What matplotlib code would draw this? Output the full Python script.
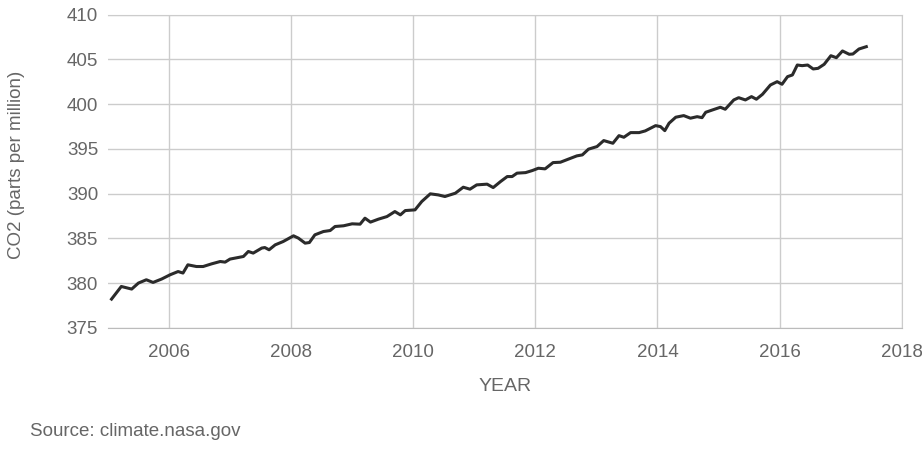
import matplotlib.pyplot as plt

plt.rcParams['font.family'] = ['Liberation Sans', 'DejaVu Sans']

# values (decimal year, ppm)
years = [2005.06, 2005.22, 2005.39, 2005.50, 2005.63, 2005.74, 2005.88, 2006.02,
         2006.15, 2006.23, 2006.31, 2006.45, 2006.56, 2006.70, 2006.84, 2006.92,
         2007.00, 2007.22, 2007.30, 2007.38, 2007.52, 2007.57, 2007.64, 2007.74,
         2007.87, 2008.04, 2008.12, 2008.23, 2008.30, 2008.39, 2008.53, 2008.64,
         2008.72, 2008.86, 2009.00, 2009.13, 2009.21, 2009.30, 2009.43, 2009.57,
         2009.70, 2009.79, 2009.87, 2010.03, 2010.14, 2010.28, 2010.41, 2010.52,
         2010.69, 2010.82, 2010.93, 2011.04, 2011.21, 2011.31, 2011.43, 2011.54,
         2011.62, 2011.70, 2011.84, 2011.95, 2012.05, 2012.16, 2012.29, 2012.41,
         2012.55, 2012.68, 2012.77, 2012.87, 2013.01, 2013.12, 2013.27, 2013.37,
         2013.45, 2013.56, 2013.70, 2013.80, 2013.97, 2014.05, 2014.12, 2014.19,
         2014.30, 2014.43, 2014.54, 2014.65, 2014.73, 2014.79, 2014.90, 2015.03,
         2015.11, 2015.25, 2015.33, 2015.44, 2015.54, 2015.62, 2015.72, 2015.85,
         2015.96, 2016.04, 2016.13, 2016.21, 2016.29, 2016.37, 2016.46, 2016.55,
         2016.63, 2016.73, 2016.84, 2016.93, 2017.03, 2017.14, 2017.20, 2017.30,
         2017.42]
co2 = [378.21, 379.62, 379.33, 380.00, 380.37, 380.07, 380.45, 380.93,
       381.29, 381.12, 382.04, 381.85, 381.85, 382.15, 382.41, 382.34,
       382.68, 382.97, 383.53, 383.35, 383.91, 383.97, 383.72, 384.27,
       384.64, 385.28, 385.02, 384.46, 384.53, 385.39, 385.76, 385.87,
       386.32, 386.40, 386.62, 386.58, 387.25, 386.81, 387.14, 387.43,
       387.99, 387.62, 388.10, 388.18, 389.11, 389.97, 389.85, 389.67,
       390.04, 390.71, 390.49, 390.97, 391.05, 390.67, 391.34, 391.90,
       391.90, 392.28, 392.34, 392.57, 392.83, 392.76, 393.46, 393.50,
       393.87, 394.21, 394.32, 394.96, 395.25, 395.92, 395.62, 396.47,
       396.29, 396.81, 396.81, 397.00, 397.59, 397.48, 397.03, 397.86,
       398.53, 398.71, 398.42, 398.59, 398.48, 399.08, 399.34, 399.64,
       399.42, 400.46, 400.71, 400.46, 400.83, 400.54, 401.09, 402.13,
       402.50, 402.21, 403.06, 403.25, 404.36, 404.29, 404.36, 403.92,
       403.99, 404.44, 405.40, 405.18, 405.93, 405.56, 405.59, 406.15,
       406.41]

x_ticks = [2006, 2008, 2010, 2012, 2014, 2016, 2018]
y_ticks = [375, 380, 385, 390, 395, 400, 405, 410]

text_color = '#666666'
grid_color = '#cccccc'

fig = plt.figure(figsize=(9.22, 4.69), dpi=100)
ax = fig.add_axes([0.117, 0.301, 0.861, 0.668])

ax.plot(years, co2, color='#2b2b2b', linewidth=2.2, solid_joinstyle='round', zorder=3)

ax.set_xlim(2005, 2018)
ax.set_ylim(375, 410)
ax.set_xticks(x_ticks)
ax.set_yticks(y_ticks)
ax.grid(True, color=grid_color, linewidth=1.0)
ax.set_axisbelow(True)

for side in ['top', 'right']:
    ax.spines[side].set_color(grid_color)
ax.spines['left'].set_visible(False)
ax.spines['bottom'].set_color('#bbbbbb')

ax.tick_params(axis='both', length=0, labelsize=13.5, labelcolor=text_color)
ax.tick_params(axis='x', pad=12)
ax.tick_params(axis='y', pad=7)

ax.set_xlabel('YEAR', fontsize=14, color=text_color, labelpad=12)
ax.set_ylabel('CO2 (parts per million)', fontsize=13.5, color=text_color)
ax.yaxis.set_label_coords(-0.105, 0.52)

fig.text(0.033, 0.079, 'Source: climate.nasa.gov', fontsize=13.5, color=text_color,
         va='center', ha='left')

fig.savefig('out.png', dpi=100)
